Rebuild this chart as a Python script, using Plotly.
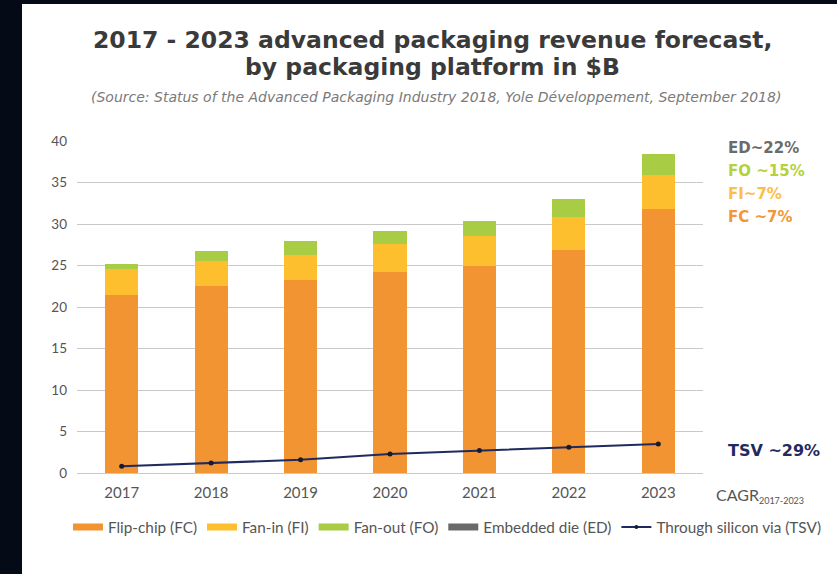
import plotly.graph_objects as go

# Advanced packaging revenue by platform, $B
years = ["2017", "2018", "2019", "2020", "2021", "2022", "2023"]
flip_chip = [21.4, 22.5, 23.2, 24.2, 25.0, 26.9, 31.8]
fan_in = [3.2, 3.1, 3.1, 3.4, 3.5, 3.9, 4.1]
fan_out = [0.6, 1.2, 1.6, 1.5, 1.9, 2.2, 2.5]
embedded_die = [0, 0, 0, 0, 0, 0, 0]  # too small to show at this scale
tsv = [0.8, 1.2, 1.6, 2.3, 2.7, 3.1, 3.5]

y_ticks = [0, 5, 10, 15, 20, 25, 30, 35, 40]

cagr_labels = ["ED~22%", "FO ~15%", "FI~7%", "FC ~7%"]
cagr_colors = ["#6b6b6b", "#b3d23e", "#fdbe48", "#f39637"]
tsv_cagr = "TSV ~29%"

C_FC = "#f39433"
C_FI = "#fdbf2d"
C_FO = "#a8cd45"
C_ED = "#6a6a6a"
C_TSV = "#1f2b5e"

W, H = 837, 574
ML, MR, MT, MB = 77, 134, 141, 101
PW, PH = W - ML - MR, H - MT - MB


def px_x(p):
    return (p - ML) / PW


def px_y(p):
    return (H - MB - p) / PH


TXT = "Lato, 'Open Sans', sans-serif"
HEAD = "DejaVu Sans"

fig = go.Figure()

stack = [("Flip-chip (FC)", flip_chip, C_FC),
         ("Fan-in (FI)", fan_in, C_FI),
         ("Fan-out (FO)", fan_out, C_FO),
         ("Embedded die (ED)", embedded_die, C_ED)]

for name, vals, col in stack:
    fig.add_trace(go.Bar(x=years, y=vals, name=name, marker_color=col,
                         marker_line_width=0, showlegend=False,
                         legendgroup=name))

fig.add_trace(go.Scatter(x=years, y=tsv, mode="lines+markers",
                         name="Through silicon via (TSV)",
                         line=dict(color=C_TSV, width=2),
                         marker=dict(color="#1a1a2e", size=5),
                         showlegend=False))

# legend entries drawn as flat swatches
for name, vals, col in stack:
    fig.add_trace(go.Scatter(x=[None], y=[None], mode="lines", name=name,
                             line=dict(color=col, width=7),
                             legendgroup=name, showlegend=True))
fig.add_trace(go.Scatter(x=[None], y=[None], mode="lines+markers",
                         name="Through silicon via (TSV)",
                         line=dict(color=C_TSV, width=2),
                         marker=dict(color="#1a1a2e", size=4),
                         showlegend=True))

shapes = [dict(type="rect", xref="paper", yref="paper",
               x0=px_x(22), x1=px_x(W + 5), y0=px_y(H + 5), y1=px_y(4),
               fillcolor="white", line_width=0, layer="below")]


def note(text, x, y, size, color, family=TXT, xanchor="left"):
    return dict(text=text, x=px_x(x), y=px_y(y), xref="paper", yref="paper",
                xanchor=xanchor, yanchor="middle", showarrow=False,
                font=dict(family=family, size=size, color=color))


annotations = [
    note("<b>2017 - 2023 advanced packaging revenue forecast,</b>",
         433, 40, 23.5, "#3a3a3a", HEAD, "center"),
    note("<b>by packaging platform in $B</b>",
         433, 67, 23.5, "#3a3a3a", HEAD, "center"),
    note("<i>(Source: Status of the Advanced Packaging Industry 2018, Yole Développement, September 2018)</i>",
         436, 97, 14, "#7a7a7a", HEAD, "center"),
    note("CAGR<sub><span style='font-size:9px'>2017-2023</span></sub>",
         714, 495, 16, "#555555"),
    note("<b>" + tsv_cagr + "</b>", 726, 450, 16, C_TSV, HEAD),
]
for i, (lab, col) in enumerate(zip(cagr_labels, cagr_colors)):
    annotations.append(note("<b>" + lab + "</b>", 726, 148 + i * 23,
                            15, col, HEAD))

fig.update_layout(
    width=W, height=H,
    margin=dict(l=ML, r=MR, t=MT, b=MB, autoexpand=False),
    paper_bgcolor="#050b16", plot_bgcolor="white",
    barmode="stack", bargap=0.63,
    font=dict(family=TXT, color="#555555"),
    showlegend=True,
    legend=dict(orientation="h", x=px_x(826), y=px_y(527),
                xanchor="right", yanchor="middle",
                font=dict(family=TXT, size=15.3, color="#555555"),
                itemwidth=30, tracegroupgap=0, bgcolor="rgba(0,0,0,0)",
                traceorder="normal"),
    shapes=shapes, annotations=annotations,
)

fig.update_xaxes(type="category", showgrid=False, showline=False,
                 ticks="", tickfont=dict(size=15, color="#555555"),
                 ticklabelstandoff=9)
fig.update_yaxes(range=[0, 40], tickvals=y_ticks, showgrid=True,
                 gridcolor="#c9c9c9", gridwidth=1, zeroline=True,
                 zerolinecolor="#c9c9c9", zerolinewidth=1, showline=False,
                 ticks="", tickfont=dict(size=13.5, color="#555555"),
                 ticklabelstandoff=9)

fig.write_html("out.html")
